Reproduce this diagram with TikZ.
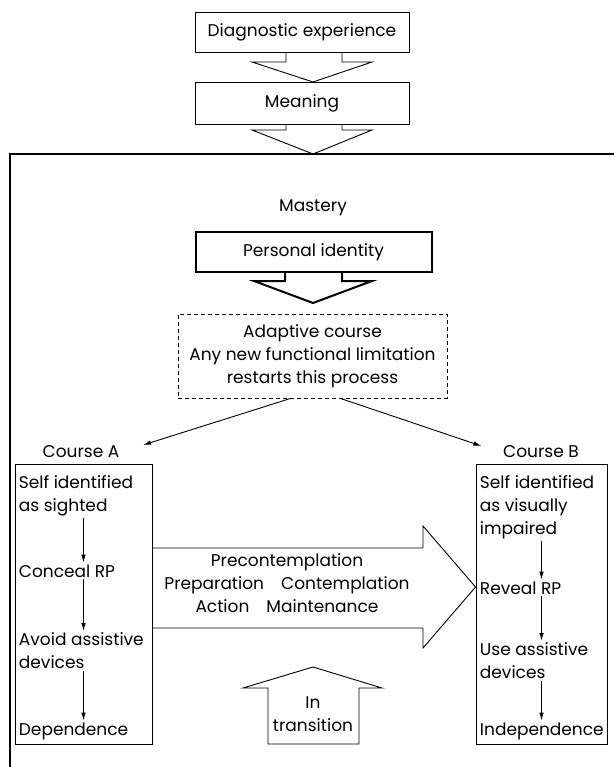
\documentclass[tikz,border=0pt]{standalone}
\usepackage{fontspec}
\setmainfont{Poppins}
\usepackage{tikz}
\usetikzlibrary{calc}
\usetikzlibrary{arrows.meta}

\begin{document}
\begin{tikzpicture}[x=1pt, y=-1pt, line width=0.9pt,
		every node/.style={font=\fontsize{17}{23}\selectfont},
		box/.style={draw, minimum height=40, inner sep=0pt},
		item/.style={anchor=west, align=left, inner sep=1.5pt},
		tip/.style={-{Latex[length=8pt, width=4.5pt]}}]
		\useasboundingbox (0,0) rectangle (614,767);

		\node[box, minimum width=214] (diag) at (302,32) {Diagnostic experience};
		\node[box, minimum width=214, minimum height=42] (meaning) at (302,103) {Meaning};
		\path (286,52) coordinate (cursor);
		\draw (cursor) -- ++(0,10) -- ++(-34,0) -- (313,82) -- ++(59,-20) -- ++(-30,0) -- ++(0,-10);
		\path (286,124) coordinate (cursor);
		\draw (cursor) -- ++(0,6) -- ++(-34,0) -- (313,154) -- ++(59,-24) -- ++(-30,0) -- ++(0,-6);

		\draw[line width=2pt] (10,767) -- (10,154) -- (614,154);

		\node (mastery) at (313,208) {Mastery};
		\node[box, line width=2pt, minimum width=236] (identity) at (313.5,252) {Personal identity};
		\path (285,272) coordinate (cursor);
		\draw[line width=2pt] (cursor) -- ++(0,9) -- ++(-31,0) -- (313,303) -- ++(59,-22) -- ++(-30,0) -- ++(0,-9);

		\node[box, dashed, dash pattern=on 4pt off 3pt, minimum width=269, minimum height=84, align=center] (adaptive) at (312.5,356)
			{Adaptive course\\Any new functional limitation\\restarts this process};

		\node (courseA) at (81,452) {Course A};
		\node (courseB) at (541,452) {Course B};
		\draw[tip] ($ (adaptive.south) + (-22,0) $) -- ($ (courseA.east) + (20,-7) $);
		\draw[tip] ($ (adaptive.south) + (28,0) $) -- ($ (courseB.west) + (-18,-6) $);

		\node[box, minimum width=137, minimum height=280] (boxA) at (83.5,604) {};
		\node[box, minimum width=131, minimum height=280] (boxB) at (541.5,604) {};

		\node[item] (a1) at (17,496) {Self identified\\as sighted};
		\node[item] (a2) at (17,571) {Conceal RP};
		\node[item] (a3) at (17,651) {Avoid assistive\\devices};
		\node[item] (a4) at (17,731) {Dependence};
		\foreach \u/\v in {a1/a2, a2/a3, a3/a4}
			\draw[tip] (boxA.center |- \u.south) -- (boxA.center |- \v.north);

		\node[item] (b1) at (478,507) {Self identified\\as visually\\impaired};
		\node[item] (b2) at (478,588) {Reveal RP};
		\node[item] (b3) at (478,661) {Use assistive\\devices};
		\node[item] (b4) at (478,731) {Independence};
		\foreach \u/\v in {b1/b2, b2/b3, b3/b4}
			\draw[tip] (boxB.center |- \u.south) -- (boxB.center |- \v.north);

		\draw (boxA.east |- 0,548) -- (423,548) -- (423,526) -- (boxB.west |- 0,587) -- (423,648) -- (423,628) -- (boxA.east |- 0,628);
		\node[align=center] (stages) at (287,583) {Precontemplation\\Preparation\quad Contemplation\\Action\quad Maintenance};

		\draw (268,744) -- (268,688) -- (243,688) -- (313,667) -- (382,688) -- (359,688) -- (359,744) -- cycle;
		\node[align=center] (trans) at (313,714) {In\\transition};
	\end{tikzpicture}
\end{document}
